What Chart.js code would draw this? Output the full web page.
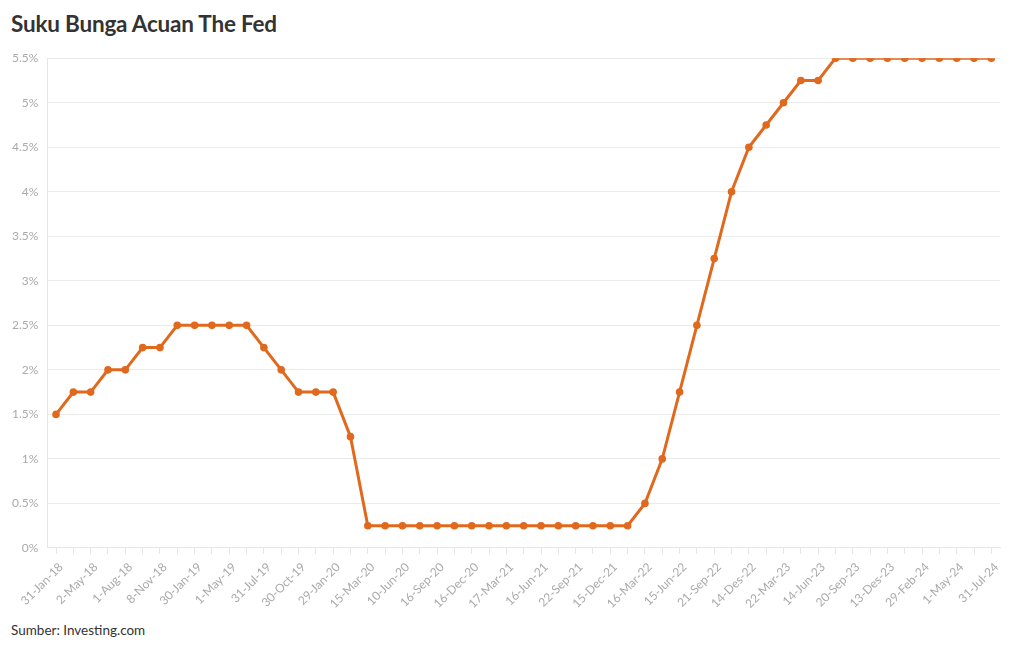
<!DOCTYPE html>
<html><head><meta charset="utf-8">
<script src="https://cdn.jsdelivr.net/npm/chart.js@4"></script>
<style>
html,body{margin:0;padding:0;background:#fff;}
#title{position:absolute;left:11px;top:10px;font:bold 22.5px "Lato","Open Sans",sans-serif;color:#333;letter-spacing:-0.2px;}
#foot{position:absolute;left:11px;top:622px;font:13.5px "Lato","Open Sans",sans-serif;color:#333;}
#wrap{position:absolute;left:0;top:42px;width:1020px;height:575px;}
</style></head>
<body>
<div id="title">Suku Bunga Acuan The Fed</div>
<div id="wrap"><canvas id="c"></canvas></div>
<div id="foot">Sumber: Investing.com</div>
<script>
const dates = ["31-Jan-18","","2-May-18","","1-Aug-18","","8-Nov-18","","30-Jan-19","","1-May-19","","31-Jul-19","","30-Oct-19","","29-Jan-20","","15-Mar-20","","10-Jun-20","","16-Sep-20","","16-Dec-20","","17-Mar-21","","16-Jun-21","","22-Sep-21","","15-Dec-21","","16-Mar-22","","15-Jun-22","","21-Sep-22","","14-Des-22","","22-Mar-23","","14-Jun-23","","20-Sep-23","","13-Des-23","","29-Feb-24","","1-May-24","","31-Jul-24"];
const rates = [1.5,1.75,1.75,2.0,2.0,2.25,2.25,2.5,2.5,2.5,2.5,2.5,2.25,2.0,1.75,1.75,1.75,1.25,
0.25,0.25,0.25,0.25,0.25,0.25,0.25,0.25,0.25,0.25,0.25,0.25,0.25,0.25,0.25,0.25,
0.5,1.0,1.75,2.5,3.25,4.0,4.5,4.75,5.0,5.25,5.25,5.5,5.5,5.5,5.5,5.5,5.5,5.5,5.5,5.5,5.5];
const yTicks = [0,0.5,1,1.5,2,2.5,3,3.5,4,4.5,5,5.5];
const color = '#e0691d';
new Chart(document.getElementById('c'), {
  type:'line',
  data:{labels:dates, datasets:[{data:rates,borderColor:color,backgroundColor:color,borderWidth:3,pointRadius:3.8,pointBackgroundColor:color,pointBorderWidth:0,tension:0}]},
  options:{
    responsive:true,maintainAspectRatio:false,animation:false,
    layout:{padding:{left:3,right:20,top:3,bottom:0}},
    plugins:{legend:{display:false},tooltip:{enabled:false}},
    scales:{
      x:{offset:true,
        grid:{offset:false,drawOnChartArea:false,color:'#e6e6e6',tickLength:6,tickColor:'#e6e6e6'},
        border:{display:true,color:'#e6e6e6'},
        ticks:{autoSkip:false,maxRotation:45,minRotation:45,color:'#aaa',font:{family:'Lato, "Open Sans", sans-serif',size:12},padding:6,labelOffset:5}},
      y:{min:0,max:5.5,
        afterBuildTicks:(s)=>{s.ticks=yTicks.map(v=>({value:v}));},
        grid:{color:'#ececec',drawTicks:false},
        border:{display:true,color:'#e6e6e6'},
        ticks:{color:'#aaa',font:{family:'Lato, "Open Sans", sans-serif',size:12},padding:9,callback:(v)=>v+'%'}}
    }
  }
});
</script>
</body></html>
